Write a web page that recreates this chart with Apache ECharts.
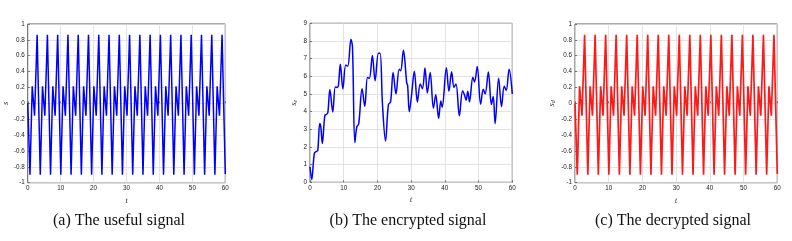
<!DOCTYPE html>
<html><head><meta charset="utf-8">
<script src="https://cdn.jsdelivr.net/npm/echarts@6/dist/echarts.min.js"></script>
<style>html,body{margin:0;padding:0;background:#fff}#c{width:792px;height:241px}</style>
</head><body><div id="c"></div>
<script>
// ---- data ----
var xTicks = [0, 10, 20, 30, 40, 50, 60];
// (a) useful signal: turning points
var usefulT = [0, 0.68,1.36,2.07,2.85, 3.80,4.48,5.19,5.97, 6.92,7.60,8.31,9.09, 10.04,10.72,11.43,12.21,
  13.16,13.84,14.55,15.33, 16.28,16.96,17.67,18.45, 19.40,20.08,20.79,21.57, 22.52,23.20,23.91,24.69,
  25.64,26.32,27.03,27.81, 28.76,29.44,30.15,30.93, 31.88,32.56,33.27,34.05, 35.00,35.68,36.39,37.17,
  38.12,38.80,39.51,40.29, 41.24,41.92,42.63,43.41, 44.36,45.04,45.75,46.53, 47.48,48.16,48.87,49.65,
  50.60,51.28,51.99,52.77, 53.72,54.40,55.11,55.89, 56.84,57.52,58.23,59.01, 60];
var usefulS = [0, -0.9,0.215,-0.155,0.865, -0.9,0.215,-0.155,0.865, -0.9,0.215,-0.155,0.865, -0.9,0.215,-0.155,0.865,
  -0.9,0.215,-0.155,0.865, -0.9,0.215,-0.155,0.865, -0.9,0.215,-0.155,0.865, -0.9,0.215,-0.155,0.865,
  -0.9,0.215,-0.155,0.865, -0.9,0.215,-0.155,0.865, -0.9,0.215,-0.155,0.865, -0.9,0.215,-0.155,0.865,
  -0.9,0.215,-0.155,0.865, -0.9,0.215,-0.155,0.865, -0.9,0.215,-0.155,0.865, -0.9,0.215,-0.155,0.865,
  -0.9,0.215,-0.155,0.865, -0.9,0.215,-0.155,0.865, -0.9,0.215,-0.155,0.865, -0.89];
// (b) encrypted signal
var encT = [0,0.5,1.3,1.9,2.3,2.9,3.2,3.65,4.4,4.9,5.3,5.9,6.75,7.5,8.0,8.4,9.0,9.75,10.6,11.2,12.15,12.6,13.3,13.9,14.45,
  15.45,16.25,17.05,17.6,18.5,19.3,20.3,20.8,21.5,22.4,23.25,23.9,24.65,25.5,26.45,26.9,27.7,28.7,28.95,29.45,30.1,30.95,
  31.85,32.7,33.35,34.1,34.8,35.65,36.6,37.3,38.15,38.8,39.2,40.45,41.2,42.0,42.7,43.3,44.3,45.25,45.8,46.3,46.8,47.3,
  48.3,48.8,49.6,50.6,51.4,51.95,52.9,53.8,54.35,54.9,55.95,56.8,57.6,58.2,59.05,60];
var encS = [0.88,0.15,1.65,1.75,1.8,3.33,3.15,2.2,3.78,3.85,3.95,5.25,3.98,5.4,5.37,5.45,6.68,5.28,6.64,6.58,8.1,7.65,2.25,3.15,3.3,
  5.3,4.3,5.93,5.88,7.18,5.75,7.3,7.3,4.4,2.34,4.4,4.55,6.22,5.0,6.4,6.32,7.47,5.6,5.5,4.0,4.9,6.28,
  4.55,5.56,5.3,6.47,5.05,6.22,4.2,4.96,3.62,4.6,4.25,6.48,5.15,6.26,5.38,5.56,3.76,5.18,4.95,4.65,5.15,4.55,
  5.94,5.68,6.55,4.42,5.26,5.0,6.24,4.4,4.85,3.32,5.89,4.28,5.43,5.2,6.4,5.0];
// (c) decrypted signal (same as useful signal)
var decT = usefulT;
var decS = usefulS;
var captions = ['(a) The useful signal', '(b) The encrypted signal', '(c) The decrypted signal'];
var yNames = ['{i|s}', '{i|s}{sub|e}', '{i|s}{sub|d}'];

function pairs(t, s){ return t.map(function(v,i){ return [v, s[i]]; }); }

var grids = [
  {left: 22.7, top: 24, width: 202.6, height: 158.7},
  {left: 310, top: 23.3, width: 202.3, height: 159},
  {left: 575, top: 24, width: 202.3, height: 158.7}
];
grids.forEach(function(g){ g.show = true; g.borderColor = '#262626'; g.borderWidth = 0.8; g.backgroundColor = '#fff'; });

var labelStyle = {fontSize: 6.3, color: '#1a1a1a', fontFamily: 'Liberation Sans'};
var nameRich = {i: {fontSize: 8.5, fontStyle: 'italic', fontFamily: 'Liberation Serif', color: '#1a1a1a'},
                sub: {fontSize: 6, fontStyle: 'italic', fontFamily: 'Liberation Serif', color: '#1a1a1a', verticalAlign: 'bottom', padding: [3,0,0,0]}};
var split = {show: true, lineStyle: {color: '#dcdcdc', width: 0.8}};

function xAx(i){
  return {gridIndex: i, type: 'value', min: 0, max: 60, interval: 10,
    axisLine: {show: false}, axisTick: {show: true, inside: true, length: 2, lineStyle: {color: '#262626', width: 0.6}},
    axisLabel: Object.assign({margin: 3}, labelStyle), splitLine: split,
    name: 't', nameLocation: 'middle', nameGap: 12,
    nameTextStyle: {fontSize: 7.5, fontStyle: 'italic', fontFamily: 'Liberation Serif', color: '#1a1a1a'}};
}
function yAx(i, min, max, iv, gap){
  return {gridIndex: i, type: 'value', min: min, max: max, interval: iv,
    axisLine: {show: false}, axisTick: {show: true, inside: true, length: 2, lineStyle: {color: '#262626', width: 0.6}},
    axisLabel: Object.assign({margin: 3, formatter: function(v){ return String(+v.toFixed(1)); }}, labelStyle),
    splitLine: split,
    name: yNames[i], nameLocation: 'middle', nameGap: gap, nameRotate: 90,
    nameTextStyle: {rich: nameRich}};
}

var capX = [119, 408, 673];
var option = {
  animation: false,
  grid: grids,
  xAxis: [xAx(0), xAx(1), xAx(2)],
  yAxis: [yAx(0, -1, 1, 0.2, 9), yAx(1, 0, 9, 1, 12), yAx(2, -1, 1, 0.2, 19)],
  series: [
    {type: 'line', xAxisIndex: 0, yAxisIndex: 0, data: pairs(usefulT, usefulS), showSymbol: false,
      lineStyle: {color: '#0000ff', width: 1.5}, itemStyle: {color: '#0000ff'}},
    {type: 'line', xAxisIndex: 1, yAxisIndex: 1, data: pairs(encT, encS), showSymbol: false, smooth: 0.35,
      lineStyle: {color: '#0000ff', width: 1.5}, itemStyle: {color: '#0000ff'}},
    {type: 'line', xAxisIndex: 2, yAxisIndex: 2, data: pairs(decT, decS), showSymbol: false,
      lineStyle: {color: '#ff1a1a', width: 1.7}, itemStyle: {color: '#ff0000'}}
  ],
  graphic: captions.map(function(c, i){
    return {type: 'text', x: capX[i], y: 213, style: {text: c, font: '16px "Liberation Serif"', fill: '#111', align: 'center', verticalAlign: 'top'}};
  })
};
var chart = echarts.init(document.getElementById('c'), null, {renderer: 'canvas'});
chart.setOption(option);
</script></body></html>
